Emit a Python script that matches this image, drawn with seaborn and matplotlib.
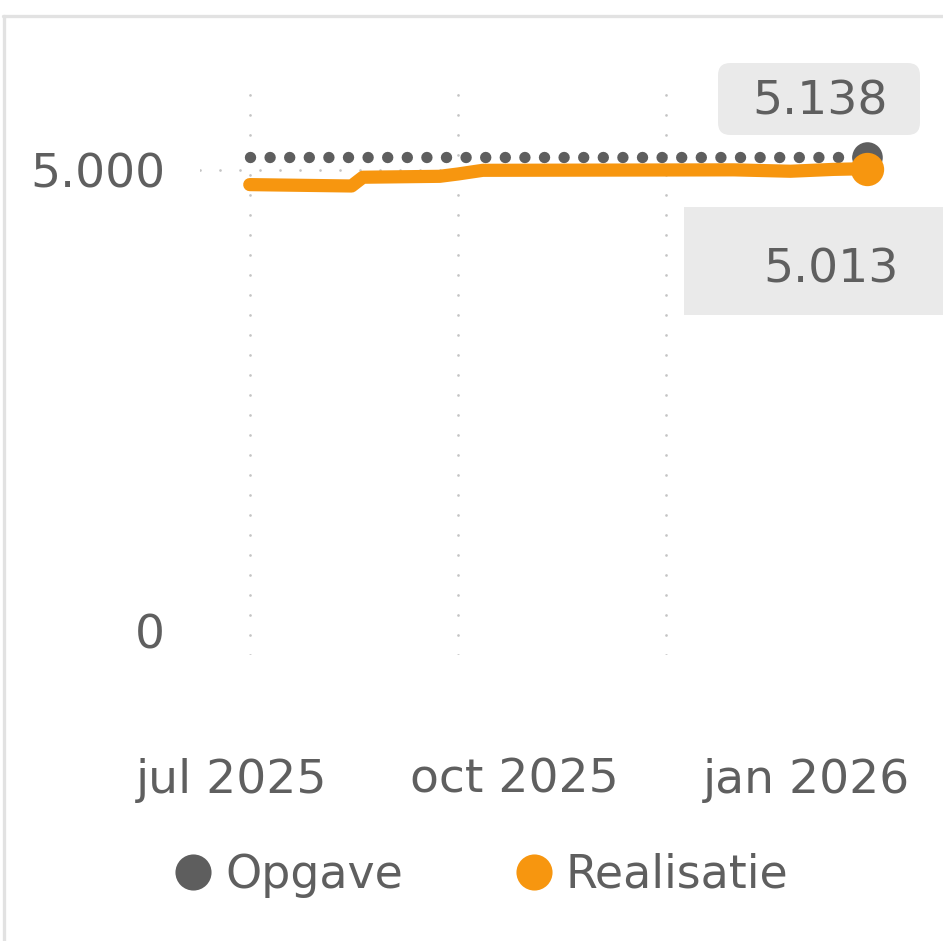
import matplotlib
matplotlib.use('Agg')
from matplotlib import pyplot as plt
from matplotlib.lines import Line2D
from matplotlib.patches import FancyBboxPatch
import matplotlib.ticker as mticker
import pandas as pd
import seaborn as sns

# data
series_names = ['Opgave', 'Realisatie']

opgave_dates = ['2025-07-01', '2026-03-31']
opgave_values = [5138, 5138]

realisatie_dates = ['2025-07-01', '2025-08-15', '2025-08-20', '2025-09-23',
                    '2025-10-01', '2025-10-12', '2026-01-31', '2026-02-25',
                    '2026-03-16', '2026-03-31']
realisatie_values = [4840, 4825, 4920, 4930, 4955, 4995, 5000, 4985, 5005, 5013]

grid_dates = ['2025-07-01', '2025-10-01', '2026-01-01']
label_dates = ['2025-06-23', '2025-10-26', '2026-03-04']
label_texts = ['jul 2025', 'oct 2025', 'jan 2026']
y_ticks = [0, 5000]

GREY = '#5E5E5E'
ORANGE = '#F7960F'
TEXT = '#5F5F5F'
GRID = '#C4C4C4'
BOX = '#EAEAEA'
W, H = 943, 941


def nl_number(v):
    return f'{v:,.0f}'.replace(',', '.')


def px_box(x0, y0, x1, y1):
    # pixel box (top-left origin) -> figure fractions
    return x0 / W, 1 - y1 / H, (x1 - x0) / W, (y1 - y0) / H


sns.set_theme(style='white')
plt.rcParams['font.family'] = ['DejaVu Sans']

fig = plt.figure(figsize=(W / 100, H / 100), dpi=100)
ax = fig.add_axes([200 / W, 1 - 655 / H, 690 / W, 570 / H])
ax.set_facecolor('none')

opgave = pd.DataFrame({'date': pd.to_datetime(opgave_dates), 'value': opgave_values})
realisatie = pd.DataFrame({'date': pd.to_datetime(realisatie_dates),
                           'value': realisatie_values})

sns.lineplot(opgave, x='date', y='value', ax=ax, color=GREY, linewidth=8.2,
             linestyle=(0, (0.001, 1.72)), dash_capstyle='round',
             marker='o', markevery=[len(opgave) - 1], markersize=22,
             markeredgewidth=0, zorder=3)
sns.lineplot(realisatie, x='date', y='value', ax=ax, color=ORANGE, linewidth=9.5,
             solid_capstyle='round', solid_joinstyle='round',
             marker='o', markevery=[len(realisatie) - 1], markersize=24,
             markeredgewidth=0, zorder=4)

ax.set_xlim(pd.Timestamp('2025-06-09'), pd.Timestamp('2026-04-10'))
ax.set_ylim(-260, 5920)

ax.set_xticks(pd.to_datetime(grid_dates))
ax.set_xticklabels([''] * len(grid_dates))
ax.set_xticks(pd.to_datetime(label_dates), minor=True)
ax.set_xticklabels(label_texts, minor=True)
ax.set_yticks(y_ticks)
ax.yaxis.set_major_formatter(mticker.FuncFormatter(lambda v, p: nl_number(v)))

dotted = dict(color=GRID, linewidth=2, linestyle=(0, (0.001, 7.2)),
              dash_capstyle='round')
ax.grid(axis='x', which='major', **dotted)
ax.grid(axis='y', which='major', **dotted)
ax.yaxis.get_gridlines()[0].set_visible(False)
ax.set_axisbelow(True)

ax.tick_params(axis='x', which='both', length=0)
ax.tick_params(axis='x', which='minor', pad=74, labelsize=34, labelcolor=TEXT)
ax.tick_params(axis='y', length=0, pad=25, labelsize=34, labelcolor=TEXT)
ax.set(xlabel='', ylabel='')
sns.despine(ax=ax, left=True, bottom=True)

# value callouts at the last point of each series
b1 = px_box(718, 63, 920, 135)
b2 = px_box(684, 207, 960, 315)
fig.add_artist(FancyBboxPatch(b1[:2], *b1[2:],
                              boxstyle='round,pad=0,rounding_size=0.013',
                              transform=fig.transFigure, facecolor=BOX,
                              edgecolor='none', zorder=0))
fig.add_artist(FancyBboxPatch(b2[:2], *b2[2:], boxstyle='square,pad=0',
                              transform=fig.transFigure, facecolor=BOX,
                              edgecolor='none', zorder=0))
ax.annotate(nl_number(opgave_values[-1]),
            (opgave['date'].iloc[-1], opgave_values[-1]),
            xytext=(-34, 30.5), textcoords='offset points', ha='center',
            va='baseline', fontsize=34, color=TEXT, annotation_clip=False)
ax.annotate(nl_number(realisatie_values[-1]),
            (realisatie['date'].iloc[-1], realisatie_values[-1]),
            xytext=(-26, -82), textcoords='offset points', ha='center',
            va='baseline', fontsize=34, color=TEXT, annotation_clip=False)

# card border
fig.add_artist(Line2D([3 / W, 1], [1 - 16 / H] * 2, transform=fig.transFigure,
                      color='#E2E2E2', linewidth=2.4))
fig.add_artist(Line2D([4 / W] * 2, [0, 1 - 16 / H], transform=fig.transFigure,
                      color='#E2E2E2', linewidth=2.4))

handles = [Line2D([], [], linestyle='', marker='o', markersize=26,
                  markeredgewidth=0, color=c) for c in (GREY, ORANGE)]
fig.legend(handles, series_names, loc='center', bbox_to_anchor=(0.511, 0.070),
           ncol=2, frameon=False, fontsize=33, handlelength=0.8,
           handletextpad=0.3, columnspacing=2.45, labelcolor=TEXT)

fig.savefig('out.png', dpi=100)
